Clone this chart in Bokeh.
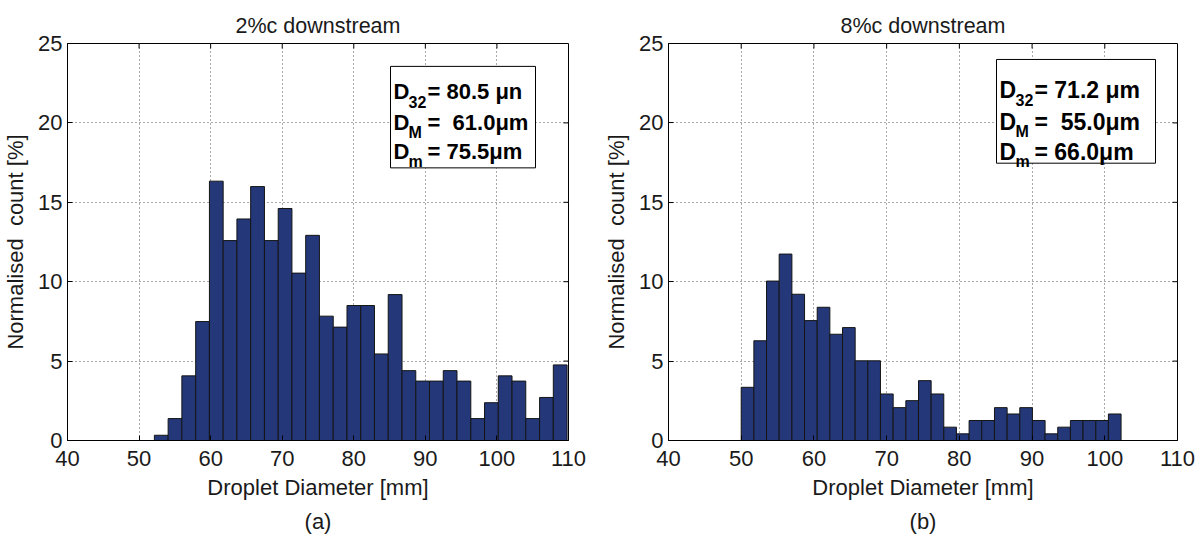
from bokeh.plotting import figure
from bokeh.models import (Range1d, FixedTicker, BoxAnnotation, Label,
                          Title, ColumnDataSource)
from bokeh.layouts import row
from bokeh.embed import file_html
from bokeh.resources import INLINE

# ---------------- data ----------------
x_ticks = [40, 50, 60, 70, 80, 90, 100, 110]
y_ticks = [0, 5, 10, 15, 20, 25]
titles = ["2%c downstream", "8%c downstream"]
captions = ["(a)", "(b)"]
x_label = "Droplet Diameter [mm]"
y_label = "Normalised\u00a0 count [%]"

# panel (a) histogram: bin edges and normalised counts [%]
edges_a = [52.14, 54.06, 55.98, 57.91, 59.83, 61.75, 63.67, 65.59, 67.52, 69.44,
           71.36, 73.28, 75.20, 77.13, 79.05, 80.97, 82.89, 84.81, 86.74, 88.66,
           90.58, 92.50, 94.42, 96.35, 98.27, 100.19, 102.11, 104.03, 105.96, 107.88,
           109.80]
counts_a = [0.33, 1.38, 4.07, 7.49, 16.33, 12.59, 13.95, 15.99, 12.59, 14.61,
            10.54, 12.92, 7.83, 7.14, 8.50, 8.50, 5.45, 9.19, 4.40, 3.74,
            3.74, 4.40, 3.74, 1.38, 2.38, 4.07, 3.74, 1.38, 2.71, 4.76]

# panel (b)
edges_b = [50.00, 51.74, 53.48, 55.22, 56.97, 58.71, 60.45, 62.19, 63.93, 65.67,
           67.41, 69.15, 70.90, 72.64, 74.38, 76.12, 77.86, 79.60, 81.34, 83.08,
           84.83, 86.57, 88.31, 90.05, 91.79, 93.53, 95.27, 97.01, 98.76, 100.50,
           102.24]
counts_b = [3.35, 6.28, 10.04, 11.74, 9.21, 7.55, 8.39, 6.69, 7.11, 5.02,
            5.02, 2.93, 2.07, 2.51, 3.77, 2.93, 0.84, 0.42, 1.26, 1.26,
            2.07, 1.67, 2.07, 1.26, 0.42, 0.84, 1.26, 1.26, 1.26, 1.67]

stats_a = [("32", "= 80.5 \u03bcn"), ("M", "=\u00a0 61.0\u03bcm"), ("m", "= 75.5\u03bcm")]
stats_b = [("32", "= 71.2 \u03bcm"), ("M", "=\u00a0 55.0\u03bcm"), ("m", "= 66.0\u03bcm")]

# ---------------- styling / layout ----------------
FONT = "Liberation Sans"
TXT = "#1a1a1a"
BAR = "#233779"

frame_a = dict(x0=0, left=67, right=32, top=41, bottom=100, W=600, H=540)
frame_b = dict(x0=600, left=68, right=23, top=43, bottom=99, W=600, H=540)

box_a = dict(box=(390, 64, 535, 166), xD=393, xs=408, xe=427,
             base=[89.3, 120.0, 150.0], sub_dy=10, fs=22, sfs=16)
box_b = dict(box=(996, 59, 1155, 163), xD=999, xs=1015, xe=1034,
             base=[90.0, 121.7, 151.7], sub_dy=10, fs=23, sfs=16)

TICK_PX = 5


def make_panel(edges, counts, title, caption, fr, bx, stats):
    fw = fr["W"] - fr["left"] - fr["right"]
    fh = fr["H"] - fr["top"] - fr["bottom"]
    xspan = x_ticks[-1] - x_ticks[0]
    yspan = y_ticks[-1] - y_ticks[0]

    def dx(px):
        return x_ticks[0] + (px - fr["x0"] - fr["left"]) / fw * xspan

    def dy(py):
        return (fr["top"] + fh - py) / fh * yspan

    p = figure(width=fr["W"], height=fr["H"], output_backend="svg", toolbar_location=None,
               x_range=Range1d(x_ticks[0], x_ticks[-1]), y_range=Range1d(y_ticks[0], y_ticks[-1]),
               min_border_left=fr["left"], min_border_right=fr["right"],
               min_border_top=fr["top"], min_border_bottom=fr["bottom"],
               title=None)
    p.outline_line_color = "black"
    p.outline_line_width = 1
    p.background_fill_color = "white"
    p.border_fill_color = "white"

    p.grid.grid_line_color = "#555555"
    p.grid.grid_line_dash = "1 3"
    p.grid.grid_line_width = 1
    p.xgrid.ticker = FixedTicker(ticks=x_ticks)
    p.ygrid.ticker = FixedTicker(ticks=y_ticks)

    src = ColumnDataSource(dict(left=edges[:-1], right=edges[1:], top=counts,
                                bottom=[0] * len(counts)))
    p.quad(left="left", right="right", top="top", bottom="bottom", source=src,
           fill_color=BAR, line_color="#151515", line_width=1)

    # inward tick marks on the top and right sides of the box (MATLAB style)
    tx = x_ticks[1:-1]
    p.segment(x0=tx, x1=tx, y0=[y_ticks[-1]] * len(tx),
              y1=[y_ticks[-1] - TICK_PX / fh * yspan] * len(tx), line_color="black", line_width=1)
    ty = y_ticks[1:-1]
    p.segment(x0=[x_ticks[-1]] * len(ty), x1=[x_ticks[-1] - TICK_PX / fw * xspan] * len(ty),
              y0=ty, y1=ty, line_color="black", line_width=1)

    for ax, tk in ((p.xaxis, x_ticks), (p.yaxis, y_ticks)):
        ax.ticker = FixedTicker(ticks=tk)
        ax.major_tick_in = TICK_PX
        ax.major_tick_out = 0
        ax.minor_tick_line_color = None
        ax.axis_line_color = "black"
        ax.major_tick_line_color = "black"
        ax.major_label_text_font = FONT
        ax.major_label_text_font_size = "22px"
        ax.major_label_text_color = TXT
        ax.axis_label_text_font = FONT
        ax.axis_label_text_font_size = "22px"
        ax.axis_label_text_font_style = "normal"
        ax.axis_label_text_color = TXT
    p.xaxis.axis_label = x_label
    p.yaxis.axis_label = y_label
    p.xaxis.major_label_standoff = 10
    p.xaxis.axis_label_standoff = 6
    p.yaxis.major_label_standoff = 5
    p.yaxis.axis_label_standoff = 7

    p.add_layout(Title(text=title, align="center", text_font=FONT, text_font_size="21.5px",
                       text_font_style="normal", text_color=TXT, standoff=8,
                       vertical_align="top"), "above")
    p.add_layout(Title(text=caption, align="center", text_font=FONT, text_font_size="22px",
                       text_font_style="normal", text_color=TXT, standoff=8), "below")

    l, t, r, b = bx["box"]
    p.add_layout(BoxAnnotation(left=dx(l), right=dx(r), top=dy(t), bottom=dy(b),
                               fill_color="white", fill_alpha=1.0,
                               line_color="black", line_width=1, line_alpha=1.0))
    for (sub, rest), base in zip(stats, bx["base"]):
        p.add_layout(Label(x=dx(bx["xD"]), y=dy(base), text="D", text_font=FONT,
                           text_font_size=f"{bx['fs']}px", text_font_style="bold",
                           text_color="black", text_baseline="alphabetic"))
        p.add_layout(Label(x=dx(bx["xs"]), y=dy(base + bx["sub_dy"]), text=sub, text_font=FONT,
                           text_font_size=f"{bx['sfs']}px", text_font_style="bold",
                           text_color="black", text_baseline="alphabetic"))
        p.add_layout(Label(x=dx(bx["xe"]), y=dy(base), text=rest, text_font=FONT,
                           text_font_size=f"{bx['fs']}px", text_font_style="bold",
                           text_color="black", text_baseline="alphabetic"))
    return p


pa = make_panel(edges_a, counts_a, titles[0], captions[0], frame_a, box_a, stats_a)
pb = make_panel(edges_b, counts_b, titles[1], captions[1], frame_b, box_b, stats_b)

layout = row(pa, pb)
open("out.html", "w").write(file_html(layout, INLINE))
